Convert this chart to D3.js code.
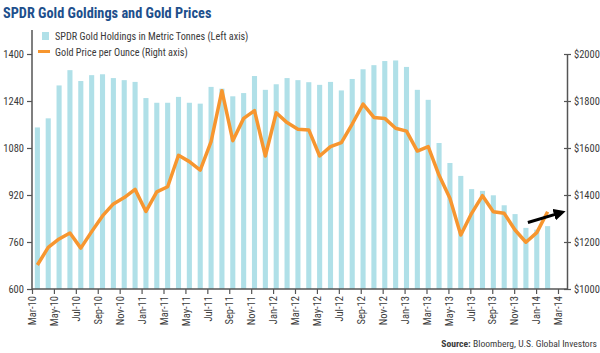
<!DOCTYPE html>
<html>
<head>
<meta charset="utf-8">
<script src="https://cdn.jsdelivr.net/npm/d3@7"></script>
<style>
  body { margin: 0; background: #fff; }
  svg { display: block; font-family: "Liberation Sans Narrow", "Roboto Condensed", "Liberation Sans", sans-serif; }
</style>
</head>
<body>
<svg id="chart" width="600" height="353"></svg>
<script>
// monthly values, Mar-10 .. Feb-14
const months = [
  'Mar-10','Apr-10','May-10','Jun-10','Jul-10','Aug-10','Sep-10','Oct-10','Nov-10','Dec-10',
  'Jan-11','Feb-11','Mar-11','Apr-11','May-11','Jun-11','Jul-11','Aug-11','Sep-11','Oct-11','Nov-11','Dec-11',
  'Jan-12','Feb-12','Mar-12','Apr-12','May-12','Jun-12','Jul-12','Aug-12','Sep-12','Oct-12','Nov-12','Dec-12',
  'Jan-13','Feb-13','Mar-13','Apr-13','May-13','Jun-13','Jul-13','Aug-13','Sep-13','Oct-13','Nov-13','Dec-13',
  'Jan-14','Feb-14'
];
const holdings = [
  1150, 1181, 1293, 1345, 1308, 1328, 1331, 1318, 1311, 1305,
  1250, 1234, 1234, 1254, 1234, 1231, 1288, 1282, 1256, 1267, 1325, 1278,
  1297, 1318, 1311, 1304, 1295, 1305, 1276, 1315, 1348, 1362, 1376, 1378,
  1356, 1278, 1244, 1097, 1029, 985, 940, 934, 919, 885, 855, 808,
  802, 814
];
const goldPrice = [
  1102, 1177, 1213, 1238, 1174, 1244, 1311, 1362, 1389, 1424,
  1330, 1413, 1435, 1569, 1542, 1506, 1627, 1844, 1631, 1726, 1759, 1566,
  1750, 1708, 1680, 1677, 1566, 1606, 1623, 1702, 1787, 1730, 1726, 1684,
  1672, 1587, 1606, 1484, 1386, 1230, 1322, 1397, 1329, 1322, 1251, 1199,
  1240, 1329
];
const tickLabels = [
  'Mar-10','May-10','Jul-10','Sep-10','Nov-10','Jan-11','Mar-11','May-11','Jul-11','Sep-11',
  'Nov-11','Jan-12','Mar-12','May-12','Jul-12','Sep-12','Nov-12','Jan-13','Mar-13','May-13',
  'Jul-13','Sep-13','Nov-13','Jan-14','Mar-14'
];
const leftTicks = [600, 760, 920, 1080, 1240, 1400];
const rightTicks = [1000, 1200, 1400, 1600, 1800, 2000];

const svg = d3.select('#chart');
const plotLeft = 32, plotRight = 567, plotBottom = 289, plotTop = 54;
const axisColor = '#555', textColor = '#3a3a3a';

const xBar = d3.scaleBand().domain(months).range([plotLeft, 553]).paddingInner(0.53).paddingOuter(0.26);
const xTick = d3.scalePoint().domain(tickLabels).range([plotLeft, 558]);
const yL = d3.scaleLinear().domain([600, 1400]).range([plotBottom, plotTop]);
const yR = d3.scaleLinear().domain([1000, 2000]).range([plotBottom, plotTop]);

// title
svg.append('text')
  .attr('x', 3).attr('y', 18)
  .attr('font-size', 14.3).attr('font-weight', 'bold')
  .attr('fill', '#1d4f8c')
  .text('SPDR Gold Goldings and Gold Prices');

// bars
svg.append('g').selectAll('rect')
  .data(holdings)
  .join('rect')
  .attr('x', (d, i) => xBar(months[i]))
  .attr('width', xBar.bandwidth())
  .attr('y', d => yL(d))
  .attr('height', d => yL(600) - yL(d))
  .attr('fill', '#b0e0e8');

// gold price line
const line = d3.line()
  .x((d, i) => xBar(months[i]) + xBar.bandwidth() / 2)
  .y(d => yR(d));

svg.append('path')
  .datum(goldPrice)
  .attr('fill', 'none')
  .attr('stroke', '#f7962f')
  .attr('stroke-width', 3.5)
  .attr('stroke-linejoin', 'round')
  .attr('d', line);

// left axis
const gL = svg.append('g').attr('transform', `translate(${plotLeft},0)`)
  .call(d3.axisLeft(yL).tickValues(leftTicks).tickSize(5).tickSizeOuter(0).tickPadding(3)
    .tickFormat(d3.format('d')));
gL.select('.domain').attr('d', `M0,${yL(1482)}V${plotBottom}`);

// right axis
const gR = svg.append('g').attr('transform', `translate(${plotRight},0)`)
  .call(d3.axisRight(yR).tickValues(rightTicks).tickSize(4).tickSizeOuter(0).tickPadding(3)
    .tickFormat(d => '$' + d));

// bottom axis
const gB = svg.append('g').attr('transform', `translate(0,${plotBottom})`)
  .call(d3.axisBottom(xTick).tickSize(5).tickSizeOuter(0).tickPadding(3));
gB.select('.domain').attr('d', `M${plotLeft},0H${plotRight}`);
gB.selectAll('text')
  .attr('transform', 'rotate(-90)')
  .attr('text-anchor', 'end')
  .attr('x', -7).attr('y', 0).attr('dy', '0.35em');

[gL, gR, gB].forEach(g => {
  g.select('.domain').attr('stroke', axisColor).attr('stroke-width', 1.5);
  g.selectAll('.tick line').attr('stroke', axisColor).attr('stroke-width', 1.2);
  g.selectAll('.tick text').attr('fill', textColor).attr('font-size', 10.5)
    .attr('font-family', '"Liberation Sans Narrow", "Roboto Condensed", sans-serif');
});
gR.selectAll('.tick line').attr('x1', -3);

// legend
const legend = svg.append('g').attr('font-size', 10.2).attr('fill', textColor);
legend.append('rect').attr('x', 42).attr('y', 32).attr('width', 7).attr('height', 8).attr('fill', '#b0e0e8');
legend.append('text').attr('x', 55).attr('y', 40).text('SPDR Gold Holdings in Metric Tonnes (Left axis)');
legend.append('line').attr('x1', 38).attr('x2', 50).attr('y1', 51.5).attr('y2', 51.5)
  .attr('stroke', '#f7962f').attr('stroke-width', 3);
legend.append('text').attr('x', 55).attr('y', 56).text('Gold Price per Ounce (Right axis)');

// trend arrow after the last price
const last = months.length - 1;
const ax0 = xBar(months[last - 2]) + xBar.bandwidth() / 2 + 2;
const ax1 = plotRight - 6;
const ay0 = yR(1283), ay1 = yR(1325);
svg.append('defs').append('marker')
  .attr('id', 'head').attr('viewBox', '0 0 10 10').attr('refX', 6).attr('refY', 5)
  .attr('markerWidth', 4).attr('markerHeight', 4).attr('orient', 'auto')
  .append('path').attr('d', 'M0,0L10,5L0,10z').attr('fill', '#000');
svg.append('line')
  .attr('x1', ax0).attr('y1', ay0).attr('x2', ax1).attr('y2', ay1)
  .attr('stroke', '#000').attr('stroke-width', 3)
  .attr('marker-end', 'url(#head)');

// source
const src = svg.append('text')
  .attr('x', 597).attr('y', 347).attr('text-anchor', 'end')
  .attr('font-size', 9.6).attr('fill', textColor);
src.append('tspan').attr('font-weight', 'bold').text('Source: ');
src.append('tspan').text('Bloomberg, U.S. Global Investors');
</script>
</body>
</html>
